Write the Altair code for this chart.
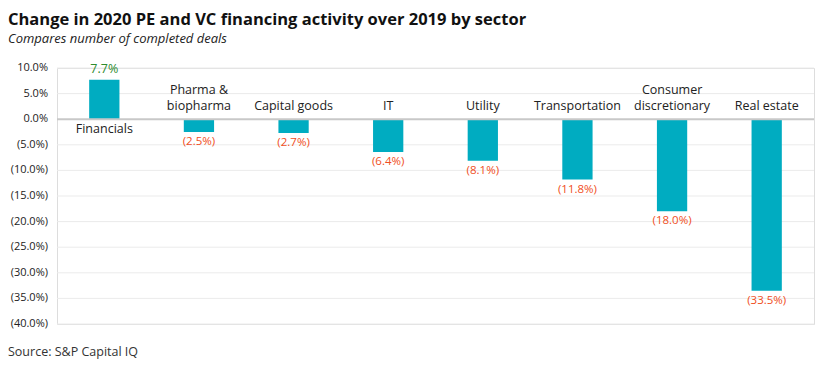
import altair as alt
import pandas as pd

categories = ["Financials", "Pharma & biopharma", "Capital goods", "IT", "Utility",
              "Transportation", "Consumer discretionary", "Real estate"]
label_lines = [["Financials"], ["Pharma &", "biopharma"], ["Capital goods"], ["IT"], ["Utility"],
               ["Transportation"], ["Consumer", "discretionary"], ["Real estate"]]
values = [7.7, -2.5, -2.7, -6.4, -8.1, -11.8, -18.0, -33.5]
y_ticks = [10, 5, 0, -5, -10, -15, -20, -25, -30, -35, -40]
y_tick_labels = ["10.0%", "5.0%", "0.0%", "(5.0%)", "(10.0%)", "(15.0%)", "(20.0%)",
                 "(25.0%)", "(30.0%)", "(35.0%)", "(40.0%)"]

FONT = "Open Sans"
LH = 16
W, H = 757, 256

def fmt(v):
    return f"({abs(v):.1f}%)" if v < 0 else f"{v:.1f}%"

df = pd.DataFrame({
    "cat": categories,
    "value": values,
    "lines": label_lines,
    "nlines": [len(l) for l in label_lines],
    "vlabel": [fmt(v) for v in values],
    "zero": [0] * len(values),
})
pos = df[df.value >= 0]
neg1 = df[(df.value < 0) & (df.nlines == 1)]
neg2 = df[(df.value < 0) & (df.nlines == 2)]
neg = df[df.value < 0]
ticks_df = pd.DataFrame({"g": y_ticks, "lab": y_tick_labels})
grid_df = ticks_df[ticks_df.g != 0]

x = alt.X("cat:N", sort=categories, axis=None,
          scale=alt.Scale(paddingInner=0.68, paddingOuter=0.34))
y_scale = alt.Scale(domain=[-40, 10], nice=False)

def Y(field):
    return alt.Y(field, type="quantitative", scale=y_scale, axis=None)

grid = alt.Chart(grid_df).mark_rule(color="#EBEBEB", strokeWidth=1).encode(
    y=Y("g"), x=alt.value(0), x2=alt.value(W))

tick_text = alt.Chart(ticks_df).mark_text(
    align="right", baseline="middle", font=FONT, fontSize=11, color="#222222"
).encode(y=Y("g"), x=alt.value(-9), text="lab")

bars = alt.Chart(df).mark_bar(color="#00ACC1").encode(x=x, y=Y("value"))

zero_rule = alt.Chart(pd.DataFrame({"z": [0]})).mark_rule(color="#C8C8C8", strokeWidth=2).encode(
    y=Y("z"), x=alt.value(0), x2=alt.value(W)
)

def cat_text(data, baseline, dy):
    return alt.Chart(data).mark_text(baseline=baseline, dy=dy, font=FONT, fontSize=12.5,
                                     color="#222222", lineHeight=LH).encode(
        x=x, y=Y("zero"), text="lines")

cat_neg1 = cat_text(neg1, "bottom", -6)
cat_neg2 = cat_text(neg2, "bottom", -6 - LH)
cat_pos = cat_text(pos, "top", 4)

val_neg = alt.Chart(neg).mark_text(baseline="top", dy=4, font=FONT, fontSize=11.5,
                                   color="#F04E23").encode(
    x=x, y=Y("value"), text="vlabel")
val_pos = alt.Chart(pos).mark_text(baseline="bottom", dy=-4, font=FONT, fontSize=12.5,
                                   color="#2E8B2E").encode(
    x=x, y=Y("value"), text="vlabel")

source = alt.Chart(pd.DataFrame({"t": ["Source: S&P Capital IQ"]})).mark_text(
    align="left", baseline="middle", font=FONT, fontSize=12.5, color="#333333"
).encode(x=alt.value(-49), y=alt.value(284), text="t")

chart = alt.layer(grid, tick_text, bars, zero_rule, cat_neg1, cat_neg2, cat_pos,
                  val_neg, val_pos, source).properties(
    width=W, height=H,
    padding={"left": 0, "top": 3, "right": 0, "bottom": 0},
    title=alt.TitleParams(
        text="Change in 2020 PE and VC financing activity over 2019 by sector",
        subtitle="Compares number of completed deals",
        anchor="start", frame="bounds", font=FONT, fontSize=16.5, fontWeight="bold",
        color="#111111", subtitleFont=FONT, subtitleFontSize=13, subtitleFontStyle="italic",
        subtitleColor="#222222", subtitlePadding=5, offset=16,
    ),
).configure_view(strokeWidth=0, stroke="transparent").configure(background="white")

chart.save("out.html", embed_options={"renderer": "svg", "actions": False})
